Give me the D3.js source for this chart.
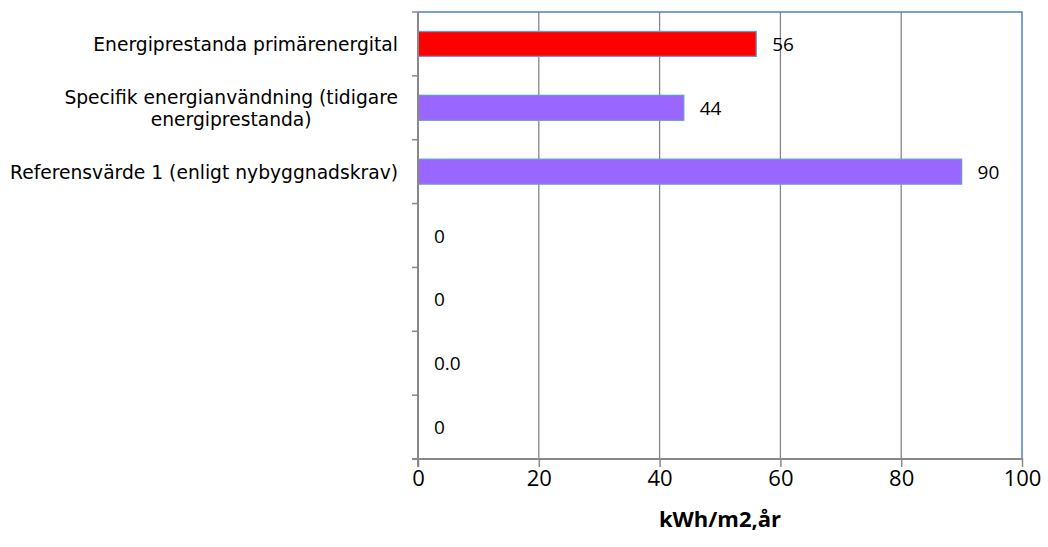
<!DOCTYPE html>
<html>
<head>
<meta charset="utf-8">
<script src="https://cdn.jsdelivr.net/npm/d3@7"></script>
<style>
  html, body { margin: 0; padding: 0; background: #ffffff; }
  svg { display: block; }
</style>
</head>
<body>
<svg id="chart" width="1048" height="547"></svg>
<script>
// Energy performance figures, kWh per m2 and year
const categories = [
  "Energiprestanda primärenergital",
  "Specifik energianvändning (tidigare\nenergiprestanda)",
  "Referensvärde 1 (enligt nybyggnadskrav)",
  "", "", "", ""
];
const values = [56, 44, 90, 0, 0, 0, 0];
const valueLabels = ["56", "44", "90", "0", "0", "0.0", "0"];
const barColors = ["#ff0000", "#9966ff", "#9966ff", "#9966ff", "#9966ff", "#9966ff", "#9966ff"];
const xTicks = [0, 20, 40, 60, 80, 100];
const xTitle = "kWh/m2,år";

const svg = d3.select("#chart");
const plot = { left: 418, top: 12, right: 1022, bottom: 459 };
const axisGray = "#888888";
const numFont = "'Open Sans', Lato, sans-serif";

const x = d3.scaleLinear().domain([0, 100]).range([plot.left, plot.right]);
const rowBand = d3.scaleBand()
  .domain(d3.range(categories.length))
  .range([plot.top, plot.bottom]);
const y = d3.scaleBand()
  .domain(d3.range(categories.length))
  .range([plot.top, plot.bottom])
  .paddingInner(0.61)
  .paddingOuter(0.305);

// vertical gridlines
svg.append("g")
  .selectAll("line")
  .data(xTicks.filter(t => t > 0 && t < 100))
  .join("line")
  .attr("x1", d => x(d)).attr("x2", d => x(d))
  .attr("y1", plot.top).attr("y2", plot.bottom)
  .attr("stroke", axisGray).attr("stroke-width", 1.3);

// top and right frame
svg.append("path")
  .attr("d", `M${plot.left},${plot.top}H${plot.right}V${plot.bottom}`)
  .attr("fill", "none").attr("stroke", "#4f81bd").attr("stroke-width", 1.5);

// bars
svg.append("g")
  .selectAll("rect")
  .data(values)
  .join("rect")
  .attr("x", x(0))
  .attr("y", (d, i) => y(i))
  .attr("width", d => x(d) - x(0))
  .attr("height", y.bandwidth())
  .attr("fill", (d, i) => barColors[i])
  .attr("stroke", d => d > 0 ? "#6a98d0" : "none")
  .attr("stroke-width", 1.3);

// bottom axis
const xAxis = d3.axisBottom(x).tickValues(xTicks).tickSize(8).tickPadding(3).tickFormat(d3.format("d"));
const gx = svg.append("g")
  .attr("transform", `translate(0,${plot.bottom})`)
  .call(xAxis);
gx.select(".domain").attr("stroke", axisGray).attr("stroke-width", 2)
  .attr("d", `M${plot.left - 6},0H${plot.right}`);
gx.selectAll(".tick line").attr("stroke", axisGray).attr("stroke-width", 1.5).attr("y1", -1);
gx.selectAll(".tick text")
  .attr("fill", "#000")
  .style("font-family", numFont)
  .style("font-size", "22px");

// left axis with ticks between rows
const boundaries = d3.range(categories.length + 1).map(i => plot.top + i * rowBand.step());
const gy = svg.append("g");
gy.append("line")
  .attr("x1", plot.left).attr("x2", plot.left)
  .attr("y1", plot.top).attr("y2", plot.bottom + 8)
  .attr("stroke", axisGray).attr("stroke-width", 2);
gy.selectAll("line.tk")
  .data(boundaries)
  .join("line").attr("class", "tk")
  .attr("x1", plot.left - 6).attr("x2", plot.left)
  .attr("y1", d => d).attr("y2", d => d)
  .attr("stroke", axisGray).attr("stroke-width", 1.5);

// category labels: block right-aligned to the axis, lines centred within it
const catG = svg.append("g")
  .style("font-family", "'DejaVu Sans', Verdana, sans-serif")
  .style("font-size", "18.7px")
  .attr("fill", "#000");
categories.forEach((c, i) => {
  if (!c) return;
  const lines = c.split("\n");
  const cy = rowBand(i) + rowBand.bandwidth() / 2;
  const lh = 22;
  const t = catG.append("text")
    .attr("text-anchor", "middle")
    .attr("dominant-baseline", "central");
  lines.forEach((ln, k) => {
    t.append("tspan").text(ln)
      .attr("y", cy + (k - (lines.length - 1) / 2) * lh);
  });
  const w = d3.max(t.selectAll("tspan").nodes(), n => n.getComputedTextLength());
  t.selectAll("tspan").attr("x", plot.left - 20 - w / 2);
});

// value labels
svg.append("g")
  .selectAll("text")
  .data(values)
  .join("text")
  .attr("x", d => x(d) + 16)
  .attr("y", (d, i) => rowBand(i) + rowBand.bandwidth() / 2)
  .attr("dominant-baseline", "central")
  .style("font-family", numFont)
  .style("font-size", "19px")
  .attr("fill", "#000")
  .text((d, i) => valueLabels[i]);

// axis title
svg.append("text")
  .attr("x", (plot.left + plot.right) / 2)
  .attr("y", 527)
  .attr("text-anchor", "middle")
  .style("font-family", numFont)
  .style("font-size", "22px")
  .style("font-weight", "bold")
  .attr("fill", "#000")
  .text(xTitle);
</script>
</body>
</html>
